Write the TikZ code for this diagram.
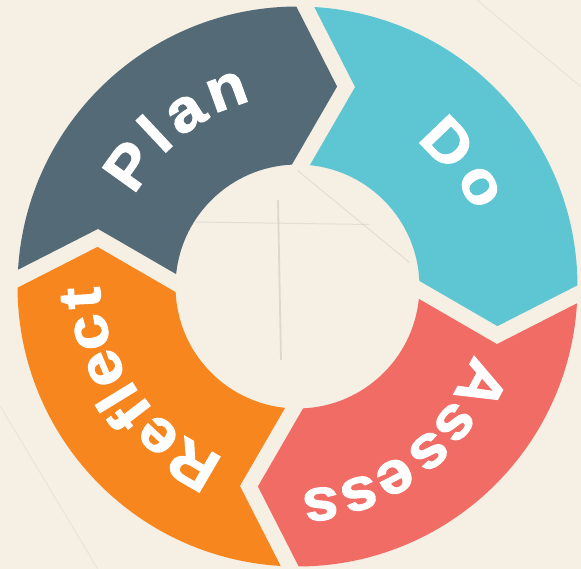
\documentclass[tikz,border=0pt]{standalone}
\usepackage{fontspec}
\newfontfamily\lblfont[FakeStretch=1.08,FakeBold=1.7]{Liberation Sans Bold}
\definecolor{bgcol}{HTML}{F5EFE4}
\definecolor{plancol}{HTML}{546B77}
\definecolor{docol}{HTML}{5EC5D3}
\definecolor{assesscol}{HTML}{F06C64}
\definecolor{reflectcol}{HTML}{F8861E}
\definecolor{scratchcol}{HTML}{BDB5A8}
\newcommand\ltr[4]{\node[ltrstyle, rotate={#2-90}] (#1) at (#2:#3pt) {#4};}
\tikzset{
  ringseg/.pic={
    \fill[#1] (178.158:280pt) arc[start angle=178.158, end angle=91.842, radius=280pt]
      -- (34pt,201pt) -- (94.231:122pt)
      arc[start angle=94.231, end angle=175.769, radius=122pt]
      -- (-201pt,52pt) -- cycle;
  },
  ltrstyle/.style={anchor=base, inner sep=0pt, text=white,
    font=\lblfont\fontsize{60}{60}\selectfont},
  scratch/.style={scratchcol, opacity=0.3, line width=1pt}
}
\begin{document}
\begin{tikzpicture}[x=1pt,y=1pt]
\fill[bgcol] (-297.5,-282.5) rectangle (283.5,286.5);
\useasboundingbox (-297.5,-282.5) rectangle (283.5,286.5);
% faint texture scratches
\draw[scratch, line width=1.8pt, opacity=0.4] (-19.5,86.5) -- (-16.5,-73.5);
\draw[scratch] (-102,64.5) -- (72,62);
\draw[scratch] (0,116) -- (112,24);
\draw[scratch, opacity=0.2] (-297,-120) -- (-200,-282);
\draw[scratch, opacity=0.2] (180,286) -- (283,200);
% ring segments
\pic[rotate=-1.6] at (0,0) {ringseg=plancol};
\pic[rotate=-91.6] at (0,0) {ringseg=docol};
\pic[rotate=-181.6] at (0,0) {ringseg=assesscol};
\pic[rotate=-271.6] at (0,0) {ringseg=reflectcol};
% Plan
\ltr{p1}{144.3}{186.5}{P}
\ltr{p2}{133.1}{188}{l}
\ltr{p3}{122.8}{189.5}{a}
\ltr{p4}{109.9}{191}{n}
% Do
\ltr{d1}{43.8}{187.5}{D}
\ltr{d2}{28.7}{191.5}{o}
% Assess
\ltr{a1}{-28.1}{188.5}{A}
\ltr{a2}{-40.9}{192}{s}
\ltr{a3}{-51.4}{195}{s}
\ltr{a4}{-62.9}{198}{e}
\ltr{a5}{-73.4}{200.5}{s}
\ltr{a6}{-83.85}{203}{s}
% Reflect
\ltr{r1}{239.7}{186}{R}
\ltr{r2}{227}{188}{e}
\ltr{r3}{217.6}{189.5}{f}
\ltr{r4}{211.5}{191}{l}
\ltr{r5}{203}{193}{e}
\ltr{r6}{192.5}{195}{c}
\ltr{r7}{183.1}{197.5}{t}
\end{tikzpicture}
\end{document}
